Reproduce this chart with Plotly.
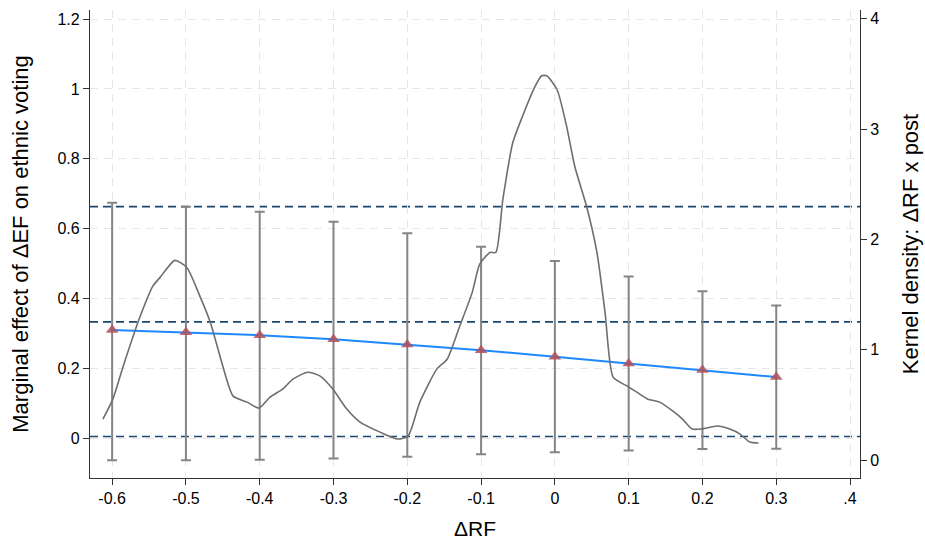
import plotly.graph_objects as go

# ---- data ----
x_pts = [-0.6, -0.5, -0.4, -0.3, -0.2, -0.1, 0.0, 0.1, 0.2, 0.3]
est = [0.310, 0.303, 0.295, 0.283, 0.268, 0.252, 0.233, 0.214, 0.195, 0.175]
ci_hi = [0.674, 0.663, 0.648, 0.620, 0.587, 0.548, 0.507, 0.463, 0.421, 0.380]
ci_lo = [-0.063, -0.063, -0.062, -0.058, -0.053, -0.046, -0.040, -0.035, -0.031, -0.030]

dens_x = [-0.6125, -0.599, -0.585, -0.562, -0.545, -0.535, -0.515, -0.499, -0.481, -0.467,
          -0.450, -0.436, -0.417, -0.401, -0.386, -0.369, -0.355, -0.335, -0.318, -0.301,
          -0.282, -0.264, -0.237, -0.213, -0.199, -0.183, -0.160, -0.146, -0.129, -0.112,
          -0.102, -0.088, -0.080, -0.0705, -0.057, -0.043, -0.027, -0.018, -0.011, 0.003,
          0.016, 0.027, 0.043, 0.057, 0.068, 0.079, 0.098, 0.111, 0.126, 0.142,
          0.160, 0.173, 0.186, 0.199, 0.220, 0.237, 0.251, 0.264, 0.276]
dens_y = [0.371, 0.552, 0.851, 1.303, 1.575, 1.656, 1.810, 1.747, 1.484, 1.249,
          0.851, 0.579, 0.525, 0.471, 0.570, 0.643, 0.733, 0.796, 0.760, 0.643,
          0.462, 0.344, 0.253, 0.190, 0.217, 0.525, 0.824, 0.914, 1.213, 1.520,
          1.774, 1.882, 1.882, 2.362, 2.878, 3.131, 3.385, 3.484, 3.484, 3.357,
          3.023, 2.661, 2.299, 1.882, 1.339, 0.751, 0.670, 0.615, 0.552, 0.525,
          0.443, 0.371, 0.281, 0.281, 0.308, 0.281, 0.235, 0.163, 0.154]

hlines = [0.005, 0.333, 0.663]

x_ticks = [-0.6, -0.5, -0.4, -0.3, -0.2, -0.1, 0.0, 0.1, 0.2, 0.3, 0.4]
x_ticklabels = ["-0.6", "-0.5", "-0.4", "-0.3", "-0.2", "-0.1", "0", "0.1", "0.2", "0.3", ".4"]
y_ticks = [0, 0.2, 0.4, 0.6, 0.8, 1.0, 1.2]
y_ticklabels = ["0", "0.2", "0.4", "0.6", "0.8", "1", "1.2"]
y2_ticks = [0, 1, 2, 3, 4]

FONT = "Liberation Sans, Arial, sans-serif"

fig = go.Figure()

err_plus = [h - e for h, e in zip(ci_hi, est)]
err_minus = [e - l for e, l in zip(est, ci_lo)]

# error bars (invisible markers)
fig.add_trace(go.Scatter(
    x=x_pts, y=est, mode="markers",
    marker=dict(size=1, color="rgba(0,0,0,0)"),
    error_y=dict(type="data", symmetric=False, array=err_plus, arrayminus=err_minus,
                 color="#858585", thickness=2, width=5),
    showlegend=False, hoverinfo="skip"))

# fitted line
fig.add_trace(go.Scatter(
    x=x_pts, y=est, mode="lines",
    line=dict(color="#1e88ff", width=2),
    showlegend=False))

# triangle markers
fig.add_trace(go.Scatter(
    x=x_pts, y=est, mode="markers",
    marker=dict(symbol="triangle-up", size=11, color="rgba(175,80,90,0.85)",
                line=dict(width=0)),
    showlegend=False))

# kernel density on secondary axis
fig.add_trace(go.Scatter(
    x=dens_x, y=dens_y, mode="lines", yaxis="y2",
    line=dict(color="#6e6e6e", width=1.6, shape="spline", smoothing=0.6),
    showlegend=False))

for h in hlines:
    fig.add_shape(type="line", xref="x domain", x0=0, x1=1, yref="y", y0=h, y1=h,
                  line=dict(color="#1a476f", width=1.6, dash="8px,5px"), layer="below")

fig.update_layout(
    width=925, height=540,
    margin=dict(l=90, r=65, t=10, b=62, autoexpand=False),
    paper_bgcolor="white", plot_bgcolor="white",
    font=dict(family=FONT, size=16, color="#000000"),
    xaxis=dict(
        range=[-0.63, 0.4135], tickvals=x_ticks, ticktext=x_ticklabels,
        showline=True, linecolor="#333333", linewidth=1.3,
        ticks="outside", ticklen=6, tickcolor="#333333",
        showgrid=True, gridcolor="#e6e6e6", griddash="8px,6px", gridwidth=1.2,
        zeroline=False, automargin=False,
        title=dict(text="ΔRF", font=dict(size=21), standoff=14),
    ),
    yaxis=dict(
        range=[-0.114, 1.226], tickvals=y_ticks, ticktext=y_ticklabels,
        showline=True, linecolor="#333333", linewidth=1.3,
        ticks="outside", ticklen=6, tickcolor="#333333",
        showgrid=True, gridcolor="#e6e6e6", griddash="8px,6px", gridwidth=1.2,
        zeroline=False, automargin=False,
        title=dict(text="Marginal effect of ΔEF on ethnic voting", font=dict(size=22), standoff=22),
    ),
    yaxis2=dict(
        range=[-0.163, 4.08], tickvals=y2_ticks, overlaying="y", side="right",
        showline=True, linecolor="#333333", linewidth=1.3,
        ticks="outside", ticklen=6, tickcolor="#333333",
        showgrid=False, zeroline=False, automargin=False,
        title=dict(text="Kernel density: ΔRF x post", font=dict(size=22), standoff=24),
    ),
)

fig.write_html("out.html")
